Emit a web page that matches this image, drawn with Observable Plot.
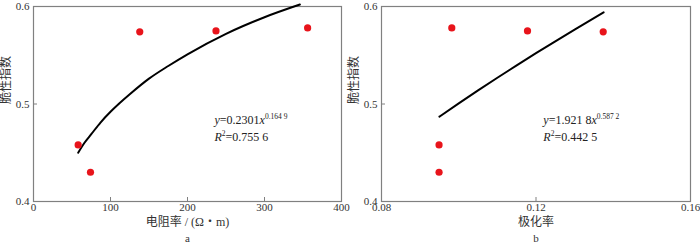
<!DOCTYPE html>
<html><head><meta charset="utf-8">
<script src="https://cdn.jsdelivr.net/npm/d3@7"></script>
<script src="https://cdn.jsdelivr.net/npm/@observablehq/plot@0.6"></script>
<style>
body{margin:0;background:#fff;}
#wrap{display:flex;width:700px;height:246px;}
</style></head>
<body><div id="wrap"></div>
<script>
// Panel a: 电阻率 vs 脆性指数
const resX = [58, 74, 138, 237, 356];
const resY = [0.458, 0.430, 0.574, 0.575, 0.578];
const resFitX = [58, 66, 75, 87, 100, 112, 125, 150, 175, 200, 250, 300, 346];
const resFitY = [0.450, 0.460, 0.469, 0.481, 0.492, 0.501, 0.510, 0.526, 0.539, 0.551, 0.572, 0.589, 0.602];
const resTicksX = [0, 100, 200, 300, 400];
// Panel b: 极化率 vs 脆性指数
const polX = [0.0949, 0.0949, 0.0982, 0.1178, 0.1374];
const polY = [0.458, 0.430, 0.578, 0.575, 0.574];
const polFitX = [0.0950, 0.1000, 0.1050, 0.1100, 0.1150, 0.1200, 0.1250, 0.1300, 0.1375];
const polFitY = [0.487, 0.5006, 0.5139, 0.5269, 0.5396, 0.5521, 0.5643, 0.5763, 0.5940];
const polTicksX = [0.08, 0.12, 0.16];
const yTicks = [0.4, 0.5, 0.6];
const yTitle = "脆性指数";
const xTitleA = "电阻率 / (Ω・m)";
const xTitleB = "极化率";
const captions = ["a", "b"];
// equation annotations: segments (i = italic, s = superscript)
const eqA = [[{t:"y",i:1},{t:"=0.2301"},{t:"x",i:1},{t:"0.164 9",s:1}], [{t:"R",i:1},{t:"2",s:1},{t:"=0.755 6"}]];
const eqB = [[{t:"y",i:1},{t:"=1.921 8"},{t:"x",i:1},{t:"0.587 2",s:1}], [{t:"R",i:1},{t:"2",s:1},{t:"=0.442 5"}]];
const eqPosA = {x: 235, y: [0.483, 0.466]};
const eqPosB = {x: 0.1219, y: [0.483, 0.466]};

const FONT = "'Liberation Serif','Noto Sans CJK SC',serif";
const GRAY = "#808080";

function panel({px, py, fx, fy, xTicks, xDomain, xFmt, xTitle, caption, eq, eqPos, mL, mR}) {
  const pts = px.map((x, i) => ({x, y: py[i]}));
  const fit = fx.map((x, i) => ({x, y: fy[i]}));
  const eqRows = eq.map((segs, i) => ({x: eqPos.x, y: eqPos.y[i], segs, text: segs.map(s => s.t).join("")}));
  const svg = Plot.plot({
    width: 350, height: 246,
    marginLeft: mL, marginRight: mR, marginTop: 6, marginBottom: 45,
    x: {domain: xDomain}, y: {domain: [0.4, 0.6]},
    style: {fontFamily: FONT, fontSize: "11px", color: "#333", background: "#fff", overflow: "visible"},
    marks: [
      Plot.axisX({ticks: xTicks, tickSize: -4, tickFormat: () => "", stroke: GRAY, label: null}),
      Plot.axisX({ticks: xTicks, tickSize: 0, tickPadding: 2, tickFormat: xFmt, label: null, fill: "#333", fontFamily: FONT, fontSize: 11}),
      Plot.axisY({ticks: yTicks, tickSize: -4, tickFormat: () => "", stroke: GRAY, label: null}),
      Plot.axisY({ticks: yTicks, tickSize: 0, tickPadding: 4, tickFormat: d3.format(".1f"), label: null, fill: "#333", fontFamily: FONT, fontSize: 11}),
      Plot.frame({stroke: GRAY, strokeWidth: 1.2}),
      Plot.line(fit, {x: "x", y: "y", stroke: "#000", strokeWidth: 2, curve: "monotone-x"}),
      Plot.dot(pts, {x: "x", y: "y", r: 3.6, fill: "#e8141b", stroke: "none"}),
      Plot.text(eqRows, {x: "x", y: "y", text: "text", textAnchor: "start", fontSize: 12, fill: "#222", fontFamily: FONT, className: "eq"}),
      Plot.text([yTitle], {frameAnchor: "left", dx: -27, rotate: -90, fontSize: 12, fill: "#333", fontFamily: FONT}),
      Plot.text([xTitle], {frameAnchor: "bottom", dy: 24, fontSize: 12, fill: "#333", fontFamily: FONT}),
      Plot.text([caption], {frameAnchor: "bottom", dy: 40.5, fontSize: 11, fill: "#333", fontFamily: FONT})
    ]
  });
  // rebuild equation text with italic letters and superscripts
  d3.select(svg).selectAll(".eq text").each(function(_, i) {
    const row = eqRows[i];
    const t = d3.select(this);
    t.text(null);
    let prevSup = false;
    row.segs.forEach(s => {
      const sp = t.append("tspan").text(s.t);
      if (s.i) sp.attr("font-style", "italic");
      if (s.s) { sp.attr("font-size", 7.5).attr("dy", -5); prevSup = true; }
      else if (prevSup) { sp.attr("dy", 5); prevSup = false; }
    });
  });
  return svg;
}

const wrap = document.getElementById("wrap");
wrap.append(panel({px: resX, py: resY, fx: resFitX, fy: resFitY, xTicks: resTicksX, xDomain: [0, 400], xFmt: d3.format("d"), xTitle: xTitleA, caption: captions[0], eq: eqA, eqPos: eqPosA, mL: 33, mR: 9}));
wrap.append(panel({px: polX, py: polY, fx: polFitX, fy: polFitY, xTicks: polTicksX, xDomain: [0.08, 0.16], xFmt: d3.format(".2f"), xTitle: xTitleB, caption: captions[1], eq: eqB, eqPos: eqPosB, mL: 31, mR: 10}));
</script></body></html>
